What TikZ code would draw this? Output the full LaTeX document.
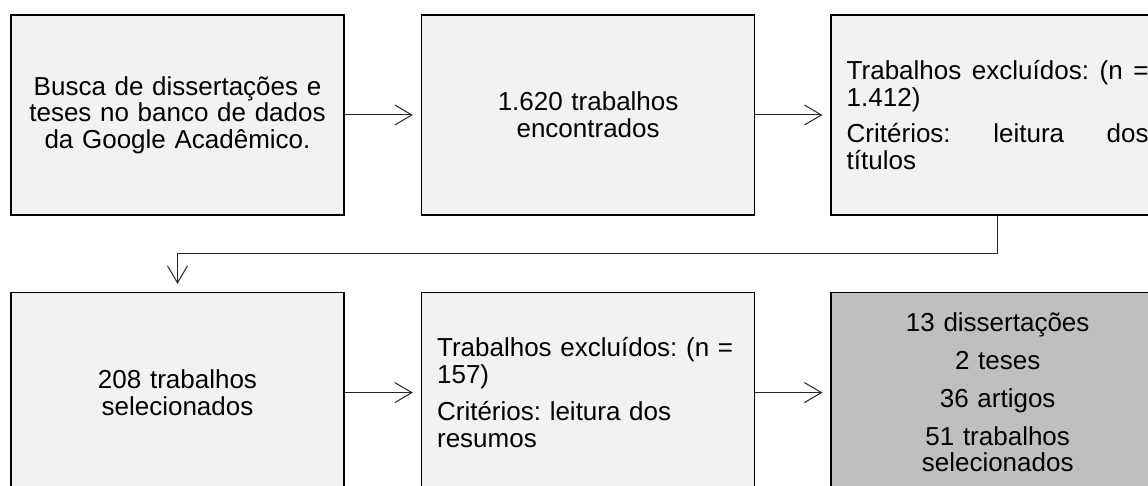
\documentclass[tikz,border=0pt]{standalone}
\usepackage{fontspec}
\setmainfont{Liberation Sans}
\usepackage{xcolor}
\usetikzlibrary{arrows.meta,positioning}
\definecolor{boxfill}{HTML}{F2F2F2}
\definecolor{endfill}{HTML}{BFBFBF}
\frenchspacing

\begin{document}
\begin{tikzpicture}[
    x=1pt, y=1pt,
    font=\fontsize{26}{26.7}\selectfont\frenchspacing,
    base/.style={draw=black, line width=1.6pt, fill=boxfill,
                 minimum width=333pt, minimum height=200pt,
                 inner sep=0pt, text width=302pt, align=center},
    lft/.style ={base, align=left},
    jst/.style ={base, align=justify},
    arr/.style ={-{Straight Barb[length=17pt, width=20pt]}, line width=1pt,
                 draw=black!85, shorten >=8pt},
  ]
  \path[use as bounding box, clip] (0,0) rectangle (1148,-486);
  % top row
  \node[base] (busca) at (177.5,-115)
       {Busca de dissertações e\\teses no banco de dados\\da Google Acadêmico.};
  \node[base, right=76pt of busca] (achados)
       {1.620 trabalhos\\encontrados};
  \node[jst, right=75pt of achados] (excl1)
       {\hyphenpenalty=10000 Trabalhos excluídos: (n =\linebreak 1.412)\\[10pt]Critérios: leitura dos\linebreak títulos};
  % bottom row
  \node[base, below=76pt of busca] (selec)
       {208 trabalhos\\selecionados};
  \node[lft, right=76pt of selec] (excl2)
       {Trabalhos excluídos: (n =\\157)\\[10pt]Critérios: leitura dos\\resumos};
  \node[base, fill=endfill, right=75pt of excl2] (final)
       {13 dissertações\\[11pt]2 teses\\[11pt]36 artigos\\[11pt]51 trabalhos\\selecionados};
  % arrows
  \draw[arr] (busca) -- (achados);
  \draw[arr] (achados) -- (excl1);
  \draw[arr] (excl1.south) -- ++(0,-38) -| (selec.north);
  \draw[arr] (selec) -- (excl2);
  \draw[arr] (excl2) -- (final);
\end{tikzpicture}
\end{document}
